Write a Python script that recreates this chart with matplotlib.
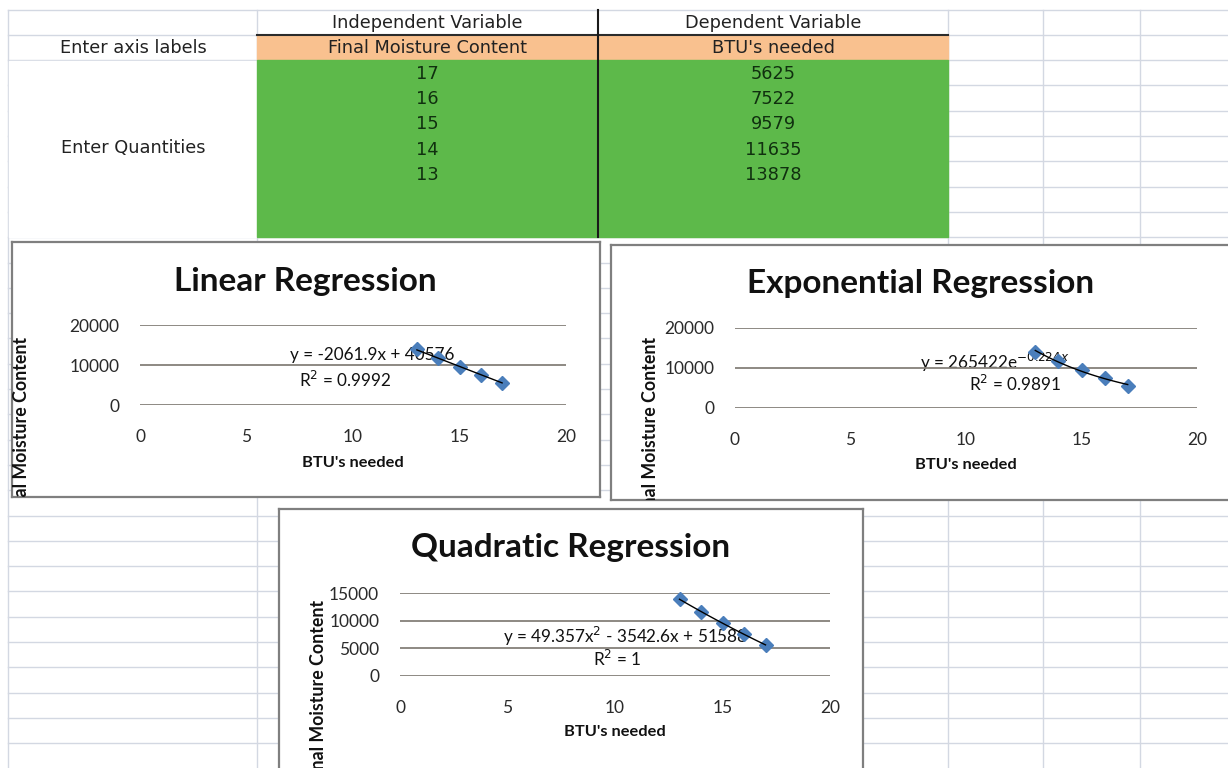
import numpy as np
import matplotlib
matplotlib.use("Agg")
import matplotlib.pyplot as plt
from matplotlib.patches import Rectangle

# spreadsheet data
x_name = "Final Moisture Content"
y_name = "BTU's needed"
moisture = [17, 16, 15, 14, 13]
btu = [5625, 7522, 9579, 11635, 13878]

lin_eq = ["y = -2061.9x + 40576", "R$^2$ = 0.9992"]
exp_eq = ["y = 265422e$^{-0.224x}$", "R$^2$ = 0.9891"]
quad_eq = ["y = 49.357x$^2$ - 3542.6x + 51588", "R$^2$ = 1"]

W, H = 1228, 768
fig = plt.figure(figsize=(W / 100, H / 100), dpi=100)
bg = fig.add_axes([0, 0, 1, 1])
bg.set_xlim(0, W)
bg.set_ylim(H, 0)
bg.axis("off")

grid_c = "#D3D8E2"
sheet_font = "DejaVu Sans"
chart_font = "Lato"


def px_axes(x0, y0, x1, y1):
    return fig.add_axes([x0 / W, 1 - y1 / H, (x1 - x0) / W, (y1 - y0) / H])


# ---- spreadsheet grid ----
row0, row_h = 9.5, 25.3
rows = row0 + np.arange(31) * row_h
for y in rows:
    bg.plot([8, W], [y, y], color=grid_c, lw=1, zorder=1)
for x in [8, 257, 948, 1043, 1140]:
    bg.plot([x, x], [row0, H], color=grid_c, lw=1, zorder=1)

top_band, mid_band, bottom_band = rows[1], rows[2], rows[9]
bg.add_patch(Rectangle((9, mid_band + 0.5), 247, bottom_band - mid_band - 1,
                       color="white", zorder=2))
bg.add_patch(Rectangle((257, top_band), 691, mid_band - top_band,
                       color="#F9C18F", zorder=2))
bg.add_patch(Rectangle((257, mid_band), 691, bottom_band - mid_band,
                       color="#5DB94A", zorder=2))
bg.plot([257, 948], [top_band, top_band], color="#2b2b2b", lw=1.5, zorder=3)
bg.plot([598, 598], [row0, bottom_band], color="#1a1a1a", lw=1.5, zorder=3)

txt = dict(family=sheet_font, fontsize=12.8, color="#222222", ha="center",
           va="center", zorder=4)
bg.text(427, (row0 + top_band) / 2 + 1, "Independent Variable", **txt)
bg.text(773, (row0 + top_band) / 2 + 1, "Dependent Variable", **txt)
bg.text(133, (top_band + mid_band) / 2 + 1, "Enter axis labels", **txt)
bg.text(427, (top_band + mid_band) / 2 + 1, x_name, **txt)
bg.text(773, (top_band + mid_band) / 2 + 1, y_name, **txt)
bg.text(133, 148, "Enter Quantities", **txt)
for i, (m, b) in enumerate(zip(moisture, btu)):
    yc = mid_band + (i + 0.5) * row_h + 1
    bg.text(427, yc, str(m), **dict(txt, color="#10300f"))
    bg.text(773, yc, str(b), **dict(txt, color="#10300f"))


# ---- charts ----
def chart(box, plot_box, title, title_xy, ylab_xy, xlab_y, eq, eq_xy, ymax,
          ystep, kind):
    cax = px_axes(*box)
    cax.set_xticks([])
    cax.set_yticks([])
    cax.set_facecolor("white")
    for s in cax.spines.values():
        s.set_color("#7f7f7f")
        s.set_linewidth(1.6)

    def put(x, y, s, **kw):
        t = cax.text(x, y, s, transform=bg.transData, family=chart_font, **kw)
        t.set_clip_box(cax.bbox)
        t.set_clip_on(True)
        return t

    px0, py0, px1, py1 = plot_box
    put(title_xy[0], title_xy[1], title, fontsize=24, weight="bold",
        ha="center", va="center", color="#111111")
    put(ylab_xy[0], ylab_xy[1], x_name, fontsize=12.8, weight="bold",
        rotation=90, rotation_mode="anchor", ha="right", va="center",
        color="#111111")
    put((px0 + px1) / 2, xlab_y, y_name, fontsize=11.8, weight="bold",
        ha="center", va="center", color="#111111")

    ax = px_axes(*plot_box)
    ax.set_xlim(0, 20)
    ax.set_ylim(0, ymax)
    ax.set_xticks(np.arange(0, 21, 5))
    ax.set_yticks(np.arange(0, ymax + 1, ystep))
    ax.patch.set_alpha(0)
    for s in ax.spines.values():
        s.set_visible(False)
    ax.grid(axis="y", color="#858079", lw=1.3)
    ax.tick_params(length=0, labelsize=12.5, colors="#2a2a2a")
    ax.tick_params(axis="x", pad=17)
    ax.tick_params(axis="y", pad=15)
    for lab in ax.get_xticklabels() + ax.get_yticklabels():
        lab.set_family(chart_font)

    xs = np.array(moisture, dtype=float)
    ys = np.array(btu, dtype=float)
    xf = np.linspace(xs.min(), xs.max(), 50)
    if kind == "linear":
        yf = np.polyval(np.polyfit(xs, ys, 1), xf)
    elif kind == "exp":
        b, a = np.polyfit(xs, np.log(ys), 1)
        yf = np.exp(a) * np.exp(b * xf)
    else:
        yf = np.polyval(np.polyfit(xs, ys, 2), xf)

    for i, line in enumerate(eq):
        put(eq_xy[i][0], eq_xy[i][1], line, fontsize=12.3, ha="center",
            va="center", color="#111111", zorder=1)
    ax.plot(xs, ys, "D", color="#4A7EBB", ms=7.5, mec="#4A7EBB", zorder=3,
            clip_on=False)
    ax.plot(xf, yf, color="black", lw=1, zorder=4, clip_on=False)


chart((12, 242, 600, 497), (140, 325, 566, 405), "Linear Regression",
      (305, 281), (22, 337), 463, lin_eq, [(372, 355), (345, 380)],
      20000, 10000, "linear")
chart((611, 245, 1240, 500), (735, 328, 1197, 408), "Exponential Regression",
      (921, 284), (651, 337), 465, exp_eq, [(995, 362), (1015, 384)],
      20000, 10000, "exp")
chart((279, 509, 863, 790), (400, 593, 830, 676), "Quadratic Regression",
      (571, 548), (318, 600), 732, quad_eq, [(625, 636), (617, 659)],
      15000, 5000, "quad")

fig.savefig("out.png", dpi=100)
